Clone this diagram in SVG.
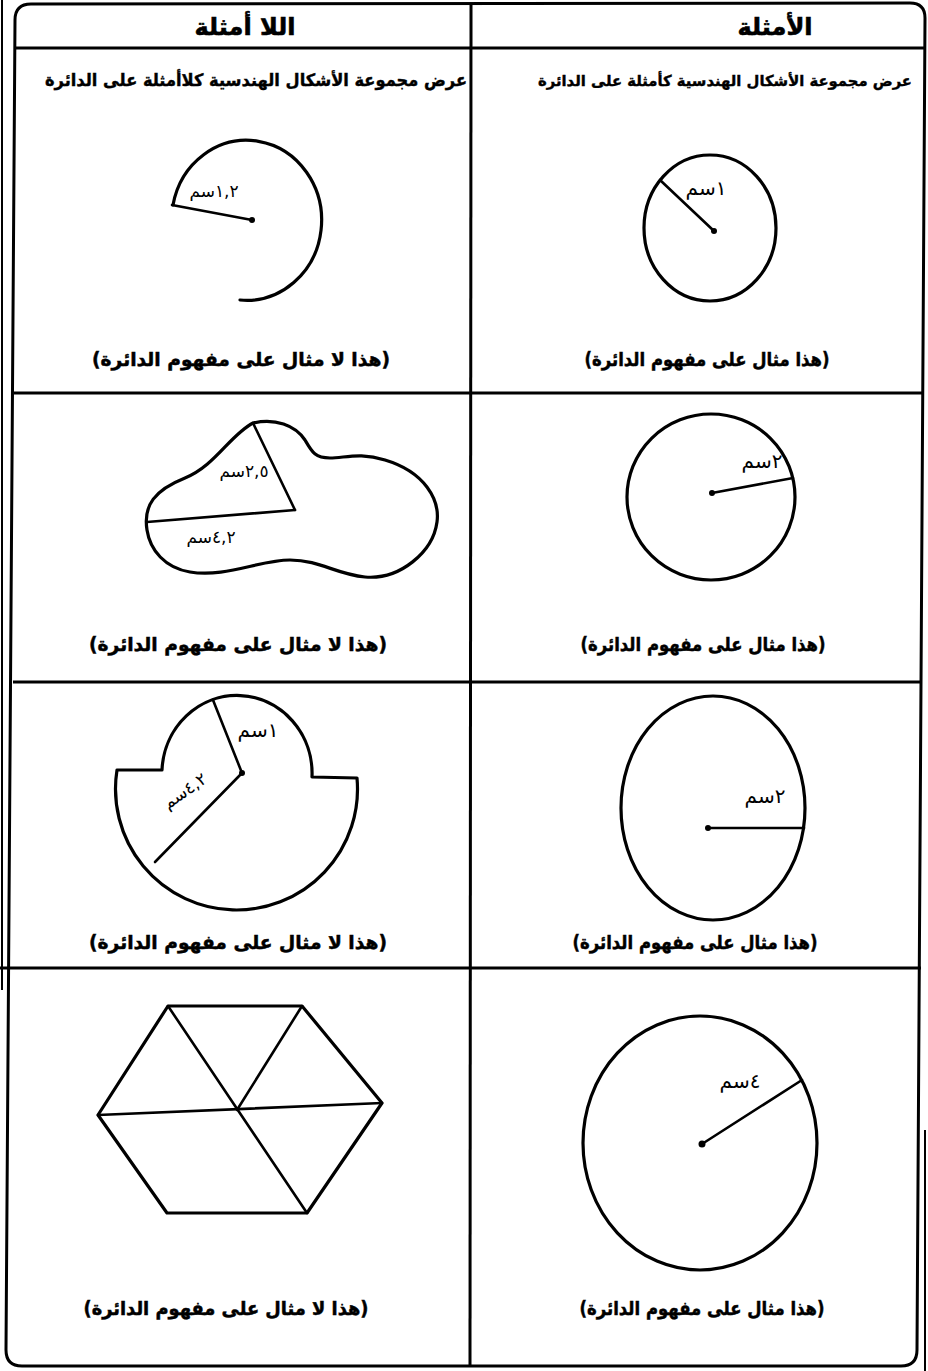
<svg xmlns="http://www.w3.org/2000/svg" width="928" height="1371" viewBox="0 0 928 1371">
<style>
  .frame{fill:none;stroke:#000;stroke-width:3}
  .rule{fill:none;stroke:#000;stroke-width:3}
  .edge{fill:none;stroke:#000;stroke-width:2}
  .shape{fill:none;stroke:#000;stroke-width:3.2;stroke-linejoin:round;stroke-linecap:round}
  .rad{fill:none;stroke:#000;stroke-width:2.6;stroke-linecap:round}
  .dot{fill:#000}
  .hdr{font-family:"DejaVu Sans",sans-serif;font-weight:bold;font-size:24px;fill:#000;stroke:#000;stroke-width:0.6}
  .sub{font-family:"DejaVu Sans",sans-serif;font-weight:bold;font-size:17px;fill:#000;stroke:#000;stroke-width:0.4}
  .lbl{font-family:"DejaVu Sans",sans-serif;font-weight:bold;font-size:19px;fill:#000;stroke:#000;stroke-width:0.5}
  .hand{font-family:"DejaVu Sans",sans-serif;font-size:20px;fill:#000}
  .hs{font-size:17px}
</style>
<rect width="928" height="1371" fill="#fff"/>
<g id="table">
  <path class="frame" d="M15,20 Q15,4 31,4 L910,3 Q925,3 925,18 L917,1350 Q917,1366 901,1366 L22,1366 Q6,1366 6,1350 Z"/>
  <line class="edge" x1="2" y1="0" x2="2" y2="990"/>
  <line class="edge" x1="925" y1="1130" x2="925" y2="1371"/>
  <line class="rule" x1="15" y1="48" x2="925" y2="48"/>
  <line class="rule" x1="14" y1="393" x2="924" y2="393"/>
  <line class="rule" x1="13" y1="682" x2="922" y2="682"/>
  <line class="rule" x1="0" y1="968" x2="921" y2="968"/>
  <line class="rule" x1="471" y1="4" x2="470" y2="1366"/>
</g>
<g id="headers">
  <text class="hdr" x="775" y="35" text-anchor="middle" direction="rtl">الأمثلة</text>
  <text class="hdr" x="245" y="35" text-anchor="middle" direction="rtl">اللا أمثلة</text>
  <text class="sub" x="725" y="86" text-anchor="middle" direction="rtl" style="font-size:15px" textLength="374" lengthAdjust="spacingAndGlyphs">عرض مجموعة الأشكال الهندسية كأمثلة على الدائرة</text>
  <text class="sub" x="256" y="86" text-anchor="middle" direction="rtl" textLength="422" lengthAdjust="spacingAndGlyphs">عرض مجموعة الأشكال الهندسية كلاأمثلة على الدائرة</text>
</g>
<g id="ex1">
  <ellipse class="shape" cx="710" cy="228" rx="66" ry="73"/>
  <line class="rad" x1="714" y1="231" x2="660" y2="180"/>
  <circle class="dot" cx="714" cy="231" r="3"/>
  <text class="hand" x="706" y="195" text-anchor="middle" direction="rtl">١سم</text>
  <text class="lbl" x="707" y="366" text-anchor="middle" direction="rtl" textLength="245" lengthAdjust="spacingAndGlyphs">(هذا مثال على مفهوم الدائرة)</text>
</g>
<g id="nonex1">
  <path class="shape" d="M173,205 A75,80 0 1 1 240,300"/>
  <line class="rad" x1="172" y1="205" x2="252" y2="220"/>
  <circle class="dot" cx="252" cy="220" r="3"/>
  <text class="hand hs" x="214" y="197" text-anchor="middle" direction="rtl">١,٢سم</text>
  <text class="lbl" x="241" y="366" text-anchor="middle" direction="rtl" textLength="298" lengthAdjust="spacingAndGlyphs">(هذا لا مثال على مفهوم الدائرة)</text>
</g>
<g id="ex2">
  <ellipse class="shape" cx="711" cy="497" rx="84" ry="83"/>
  <line class="rad" x1="712" y1="493" x2="793" y2="478"/>
  <circle class="dot" cx="712" cy="493" r="3"/>
  <text class="hand" x="762" y="468" text-anchor="middle" direction="rtl">٢سم</text>
  <text class="lbl" x="703" y="651" text-anchor="middle" direction="rtl" textLength="245" lengthAdjust="spacingAndGlyphs">(هذا مثال على مفهوم الدائرة)</text>
</g>
<g id="nonex2">
  <path class="shape" d="M253,423 C275,418 295,425 305,440 C312,452 315,458 330,458 C345,458 360,452 385,460 C425,472 440,500 437,522 C433,552 400,580 365,577 C335,574 320,560 290,560 C260,560 225,578 190,572 C165,568 150,550 147,530 C143,505 155,490 185,478 C215,466 230,435 253,423 Z"/>
  <line class="rad" x1="253" y1="423" x2="295" y2="510"/>
  <line class="rad" x1="295" y1="510" x2="147" y2="522"/>
  <text class="hand hs" x="244" y="477" text-anchor="middle" direction="rtl">٢,٥سم</text>
  <text class="hand hs" x="211" y="543" text-anchor="middle" direction="rtl">٤,٢سم</text>
  <text class="lbl" x="238" y="651" text-anchor="middle" direction="rtl" textLength="298" lengthAdjust="spacingAndGlyphs">(هذا لا مثال على مفهوم الدائرة)</text>
</g>
<g id="ex3">
  <ellipse class="shape" cx="713" cy="808" rx="92" ry="112"/>
  <line class="rad" x1="708" y1="828" x2="804" y2="828"/>
  <circle class="dot" cx="708" cy="828" r="3"/>
  <text class="hand" x="765" y="803" text-anchor="middle" direction="rtl">٢سم</text>
  <text class="lbl" x="695" y="949" text-anchor="middle" direction="rtl" textLength="245" lengthAdjust="spacingAndGlyphs">(هذا مثال على مفهوم الدائرة)</text>
</g>
<g id="nonex3">
  <path class="shape" d="M117,770 L162,770 A75,78 0 0 1 312,777 L357,778 A121,121 0 1 1 117,770 Z"/>
  <line class="rad" x1="213" y1="700" x2="242" y2="773"/>
  <line class="rad" x1="242" y1="773" x2="155" y2="862"/>
  <circle class="dot" cx="242" cy="773" r="3"/>
  <text class="hand" x="258" y="737" text-anchor="middle" direction="rtl">١سم</text>
  <text class="hand hs" x="184" y="797" text-anchor="middle" direction="rtl" transform="rotate(-35 184 790)">٤,٢سم</text>
  <text class="lbl" x="238" y="949" text-anchor="middle" direction="rtl" textLength="298" lengthAdjust="spacingAndGlyphs">(هذا لا مثال على مفهوم الدائرة)</text>
</g>
<g id="ex4">
  <ellipse class="shape" cx="700" cy="1143" rx="117" ry="127"/>
  <line class="rad" x1="702" y1="1144" x2="802" y2="1080"/>
  <circle class="dot" cx="702" cy="1144" r="3.5"/>
  <text class="hand" x="740" y="1088" text-anchor="middle" direction="rtl">٤سم</text>
  <text class="lbl" x="702" y="1315" text-anchor="middle" direction="rtl" textLength="245" lengthAdjust="spacingAndGlyphs">(هذا مثال على مفهوم الدائرة)</text>
</g>
<g id="nonex4">
  <polygon class="shape" points="168,1006 302,1006 382,1103 307,1213 167,1213 98,1115"/>
  <line class="rad" x1="98" y1="1115" x2="382" y2="1103"/>
  <line class="rad" x1="168" y1="1006" x2="307" y2="1213"/>
  <line class="rad" x1="302" y1="1006" x2="237" y2="1110"/>
  <text class="lbl" x="226" y="1315" text-anchor="middle" direction="rtl" textLength="285" lengthAdjust="spacingAndGlyphs">(هذا لا مثال على مفهوم الدائرة)</text>
</g>
</svg>
